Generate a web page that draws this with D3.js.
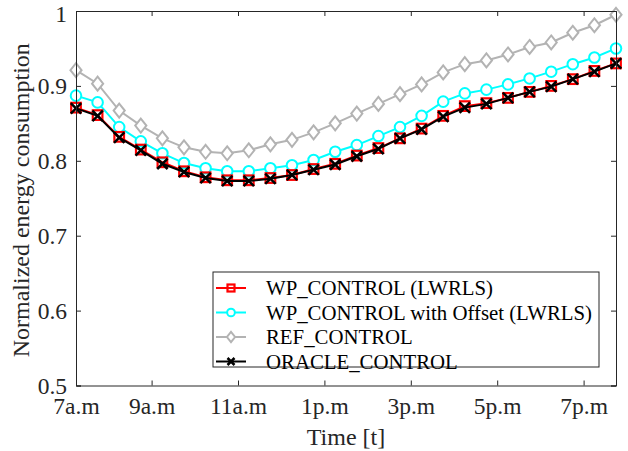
<!DOCTYPE html>
<html>
<head>
<meta charset="utf-8">
<script src="https://cdnjs.cloudflare.com/ajax/libs/d3/7.8.5/d3.min.js"></script>
</head>
<body style="margin:0; background:#fff">
<div id="chart"></div>
<script>
// data: one point every half hour, index 0 = 7a.m
const pointIndex = d3.range(26);
const tickPos = [0, 3.5, 7.5, 11.5, 15.5, 19.5, 23.5];
const tickLabels = ["7a.m", "9a.m", "11a.m", "1p.m", "3p.m", "5p.m", "7p.m"];
const yTicks = [0.5, 0.6, 0.7, 0.8, 0.9, 1];

const refControl = [0.921, 0.903, 0.867, 0.847, 0.830, 0.818, 0.812, 0.810, 0.814,
    0.822, 0.828, 0.838, 0.850, 0.863, 0.876, 0.889, 0.902, 0.918, 0.929, 0.934,
    0.942, 0.952, 0.958, 0.971, 0.981, 0.995];
const wpOffset = [0.887, 0.878, 0.845, 0.826, 0.810, 0.797, 0.790, 0.786, 0.786,
    0.790, 0.794, 0.801, 0.812, 0.821, 0.833, 0.845, 0.860, 0.879, 0.890, 0.895,
    0.902, 0.910, 0.919, 0.929, 0.938, 0.950];
const wpControl = [0.871, 0.861, 0.832, 0.815, 0.798, 0.786, 0.778, 0.774, 0.774,
    0.777, 0.781, 0.789, 0.796, 0.807, 0.817, 0.830, 0.843, 0.860, 0.873, 0.877,
    0.884, 0.892, 0.900, 0.909, 0.920, 0.930];
const oracleControl = [0.870, 0.860, 0.831, 0.814, 0.796, 0.785, 0.777, 0.773, 0.773,
    0.776, 0.781, 0.788, 0.795, 0.806, 0.816, 0.830, 0.842, 0.859, 0.871, 0.876,
    0.884, 0.892, 0.899, 0.909, 0.919, 0.930];

const series = [
    { name: "REF_CONTROL", values: refControl, color: "#b3b3b3", marker: "diamond" },
    { name: "WP_CONTROL with Offset (LWRLS)", values: wpOffset, color: "#00ffff", marker: "circle" },
    { name: "WP_CONTROL (LWRLS)", values: wpControl, color: "#ff0000", marker: "square" },
    { name: "ORACLE_CONTROL", values: oracleControl, color: "#000000", marker: "cross" }
];
const legendOrder = ["WP_CONTROL (LWRLS)", "WP_CONTROL with Offset (LWRLS)", "REF_CONTROL", "ORACLE_CONTROL"];

const width = 628, height = 451;
const margin = { top: 11, right: 12, bottom: 65.5, left: 76 };
const axisColor = "#262626";
const serif = "Liberation Serif";

const svg = d3.select("#chart").append("svg")
    .attr("width", width)
    .attr("height", height);

const x = d3.scaleLinear().domain([0, 25]).range([margin.left, width - margin.right]);
const y = d3.scaleLinear().domain([0.5, 1]).range([height - margin.bottom, margin.top]);

// markers
function drawMarker(g, type, color, s) {
    if (type === "square") {
        g.append("rect").attr("x", -s).attr("y", -s).attr("width", 2 * s).attr("height", 2 * s)
            .attr("fill", "none").attr("stroke", color).attr("stroke-width", 2.2);
    } else if (type === "circle") {
        g.append("circle").attr("r", s * 1.1).attr("fill", "#fff")
            .attr("stroke", color).attr("stroke-width", 2);
    } else if (type === "diamond") {
        const d = s * 1.45;
        g.append("path").attr("d", `M0,${-d}L${d * 0.8},0L0,${d}L${-d * 0.8},0Z`)
            .attr("fill", "#fff").attr("stroke", color).attr("stroke-width", 2);
    } else {
        g.append("path").attr("d", `M${-s},${-s}L${s},${s}M${-s},${s}L${s},${-s}`)
            .attr("stroke", color).attr("stroke-width", 2.5).attr("fill", "none");
    }
}

const line = d3.line().x((d, i) => x(pointIndex[i])).y(d => y(d));

series.forEach(s => {
    const g = svg.append("g");
    g.append("path").datum(s.values)
        .attr("d", line)
        .attr("fill", "none")
        .attr("stroke", s.color)
        .attr("stroke-width", 2);
    s.values.forEach((v, i) => {
        const m = g.append("g").attr("transform", `translate(${x(pointIndex[i])},${y(v)})`);
        drawMarker(m, s.marker, s.color, s.marker === "cross" ? 5.2 : 4.8);
    });
});

// axes (box, ticks inside)
const plotH = height - margin.bottom - margin.top;
const plotW = width - margin.right - margin.left;

svg.append("g")
    .attr("transform", `translate(0,${height - margin.bottom})`)
    .call(d3.axisBottom(x).tickValues(tickPos).tickSize(-5).tickPadding(12)
        .tickFormat((d, i) => tickLabels[i]));
svg.append("g")
    .attr("transform", `translate(0,${margin.top})`)
    .call(d3.axisTop(x).tickValues(tickPos).tickSize(-5).tickFormat(""));

const yAxisG = svg.append("g")
    .attr("transform", `translate(${margin.left},0)`)
    .call(d3.axisLeft(y).tickValues(yTicks).tickSize(-5).tickPadding(9)
        .tickFormat(d => d === 1 ? "1" : d3.format(".1f")(d)));
svg.append("g")
    .attr("transform", `translate(${width - margin.right},0)`)
    .call(d3.axisRight(y).tickValues(yTicks).tickSize(-5).tickFormat(""));

svg.selectAll("g").attr("font-family", serif);
svg.selectAll(".domain, .tick line").attr("stroke", axisColor).attr("stroke-width", 1);
svg.selectAll(".tick text")
    .attr("fill", axisColor)
    .attr("font-family", serif)
    .attr("font-size", 23.5);

// the top label sits a little lower, as in the original
yAxisG.selectAll(".tick text").filter(d => d === 1).attr("y", 3);

// axis titles
svg.append("text")
    .attr("x", margin.left + plotW / 2)
    .attr("y", 445)
    .attr("text-anchor", "middle")
    .attr("fill", axisColor)
    .attr("font-family", serif)
    .attr("font-size", 24)
    .text("Time [t]");

svg.append("text")
    .attr("transform", `translate(29,${margin.top + plotH / 2 + 2}) rotate(-90)`)
    .attr("text-anchor", "middle")
    .attr("fill", axisColor)
    .attr("font-family", serif)
    .attr("font-size", 24)
    .text("Normalized energy consumption");

// legend
const legend = svg.append("g").attr("transform", "translate(213,272)");
legend.append("rect")
    .attr("width", 386).attr("height", 95)
    .attr("fill", "#fff").attr("stroke", axisColor).attr("stroke-width", 1);

legendOrder.forEach((name, i) => {
    const s = series.find(d => d.name === name);
    const row = legend.append("g").attr("transform", `translate(0,${16 + i * 24.5})`);
    row.append("line").attr("x1", 3).attr("x2", 33)
        .attr("stroke", s.color).attr("stroke-width", 2);
    const m = row.append("g").attr("transform", "translate(18,0)");
    drawMarker(m, s.marker, s.color, 3.5);
    row.append("text")
        .attr("x", 53).attr("dy", "0.35em")
        .attr("fill", "#000")
        .attr("font-family", serif)
        .attr("font-size", 20.8)
        .text(s.name);
});
</script>
</body>
</html>
